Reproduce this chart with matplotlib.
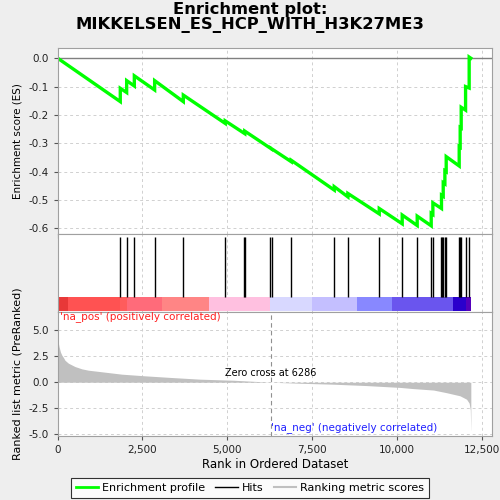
import matplotlib
matplotlib.use("Agg")
import matplotlib.pyplot as plt
from matplotlib.lines import Line2D
from matplotlib.ticker import FuncFormatter

plt.rcParams["font.family"] = ["DejaVu Sans"]
plt.rcParams["axes.unicode_minus"] = False

# running enrichment score: rank of each jump, ES just before and just after it
jump_ranks = [1845, 2033, 2259, 2858, 3703, 4940, 5515, 6291, 6886, 8153, 8556, 9480,
              10157, 10599, 11012, 11061, 11315, 11366, 11415, 11454, 11837, 11866,
              11896, 12025, 12131]
es_before = [-0.153, -0.121, -0.098, -0.112, -0.153, -0.230, -0.266, -0.319, -0.365,
             -0.465, -0.489, -0.549, -0.584, -0.590, -0.591, -0.551, -0.530, -0.487,
             -0.443, -0.400, -0.380, -0.314, -0.246, -0.183, -0.105]
es_after = [-0.106, -0.079, -0.062, -0.079, -0.130, -0.221, -0.257, -0.318, -0.360,
            -0.453, -0.477, -0.530, -0.553, -0.557, -0.547, -0.510, -0.483, -0.439,
            -0.397, -0.347, -0.312, -0.244, -0.173, -0.100, 0.004]
n_genes = 12180

# gene set hits (positions in the ranked list)
hits = [1845, 2033, 2259, 2858, 3703, 4940, 5500, 5530, 6266, 6316, 6886, 8153, 8556,
        9480, 10157, 10599, 11012, 11061, 11307, 11336, 11366, 11415, 11454, 11837,
        11866, 11896, 12025, 12131]

# ranked list metric, sampled along the list
metric_rank = [0, 40, 80, 120, 170, 215, 315, 510, 710, 905, 1400, 1890, 2580, 3360,
               4200, 5180, 6286, 7150, 8130, 9100, 10100, 10480, 11080, 11460, 11860,
               12055, 12130, 12165, 12178, 12180]
metric_val = [4.06, 3.4, 2.9, 2.6, 2.36, 2.1, 1.82, 1.5, 1.28, 1.15, 0.96, 0.77, 0.61,
              0.45, 0.29, 0.19, 0.0, -0.1, -0.19, -0.32, -0.5, -0.61, -0.75, -1.0,
              -1.3, -1.63, -2.0, -2.65, -4.6, -4.6]
zero_cross = 6286

# heat bar segments under the hits
band_edges = [0, 295, 1836, 2033, 3065, 4460, 6260, 7490, 8830, 9845, 11640, 12035, 12180]
band_colors = ["#e83838", "#ff5252", "#ff5c5c", "#ff6b7a", "#ff8585", "#ffc0e0",
               "#d8d8ff", "#c4bfff", "#8888ff", "#6a55ee", "#2a00cc", "#5500bb"]

XMAX = 12810
grid_kw = dict(color="#d0d0d0", linestyle=(0, (3, 3)), linewidth=0.7)
spine_col = "#a0a0a0"

fig = plt.figure(figsize=(5, 5), dpi=100)
fig.patch.set_facecolor("#eeeeee")

ax1 = fig.add_axes([0.1154, 0.5314, 0.869, 0.372])
ax2 = fig.add_axes([0.1154, 0.377, 0.869, 0.1544])
ax3 = fig.add_axes([0.1154, 0.1286, 0.869, 0.2484])

for ax in (ax1, ax2, ax3):
    ax.set_xlim(0, XMAX)
    ax.set_xticks(range(0, 12501, 2500))
    for s in ax.spines.values():
        s.set_color(spine_col)
    ax.tick_params(colors="#555555", labelcolor="#222222", labelsize=7.5, length=3)
    ax.grid(True, **grid_kw)
    ax.set_axisbelow(True)

# enrichment profile
xs, ys = [0], [0.0]
for r, b, a in zip(jump_ranks, es_before, es_after):
    xs += [r, r]
    ys += [b, a]
xs.append(n_genes)
ys.append(0.0)
ax1.axhline(0, color="#808080", linewidth=1)
ax1.plot(xs, ys, color="#00ff00", linewidth=2.4, solid_joinstyle="miter")
ax1.set_ylim(-0.621, 0.035)
ax1.set_yticks([0.0, -0.1, -0.2, -0.3, -0.4, -0.5, -0.6])
ax1.yaxis.set_major_formatter(FuncFormatter(lambda v, p: f"{v:.1f}"))
ax1.tick_params(labelbottom=False)
ax1.set_ylabel("Enrichment score (ES)", fontsize=7.5)

# hits + heat bar
ax2.set_ylim(0, 1)
ax2.set_yticks([])
ax2.tick_params(labelbottom=False, bottom=False)
ax2.vlines(hits, 0.19, 0.97, color="black", linewidth=1)
for x0, x1, c in zip(band_edges[:-1], band_edges[1:], band_colors):
    ax2.axvspan(x0, x1, ymin=0.005, ymax=0.19, color=c, linewidth=0)

# ranked list metric
ax3.fill_between(metric_rank, metric_val, 0, color="#c0c0c0", linewidth=0)
ax3.axvline(zero_cross, color="#909090", linestyle=(0, (4, 3)), linewidth=0.8)
ax3.set_ylim(-5.12, 6.77)
ax3.set_yticks([-5.0, -2.5, 0.0, 2.5, 5.0])
ax3.yaxis.set_major_formatter(FuncFormatter(lambda v, p: f"{v:.1f}"))
ax3.xaxis.set_major_formatter(FuncFormatter(lambda v, p: f"{int(v):,}"))
ax3.set_xlabel("Rank in Ordered Dataset", fontsize=8.5, labelpad=2)
ax3.set_ylabel("Ranked list metric (PreRanked)", fontsize=8)
ax3.text(zero_cross, 0.86, f"Zero cross at {zero_cross}", ha="center", va="center",
         fontsize=7)
ax3.text(80, 6.3, "'na_pos' (positively correlated)", color="#ff2020", fontsize=7.5,
         ha="left", va="center")
ax3.text(6300, -4.3, "'na_neg' (negatively correlated)", color="#2020ff", fontsize=7.5,
         ha="left", va="center")

fig.text(0.5, 0.965, "Enrichment plot:\nMIKKELSEN_ES_HCP_WITH_H3K27ME3", ha="center",
         va="center", fontsize=11.8, fontweight="bold", linespacing=1.05)

handles = [Line2D([], [], color="#00ff00", linewidth=2),
           Line2D([], [], color="black", linewidth=1),
           Line2D([], [], color="#c0c0c0", linewidth=1.5)]
leg = fig.legend(handles, ["Enrichment profile", "Hits", "Ranking metric scores"],
                 loc="center", bbox_to_anchor=(0.5, 0.024), ncol=3, fontsize=8,
                 frameon=True, fancybox=False, handlelength=2, columnspacing=0.9,
                 handletextpad=0.4, borderpad=0.45)
leg.get_frame().set_edgecolor("black")
leg.get_frame().set_linewidth(0.8)

fig.savefig("out.png", dpi=100, facecolor=fig.get_facecolor())
